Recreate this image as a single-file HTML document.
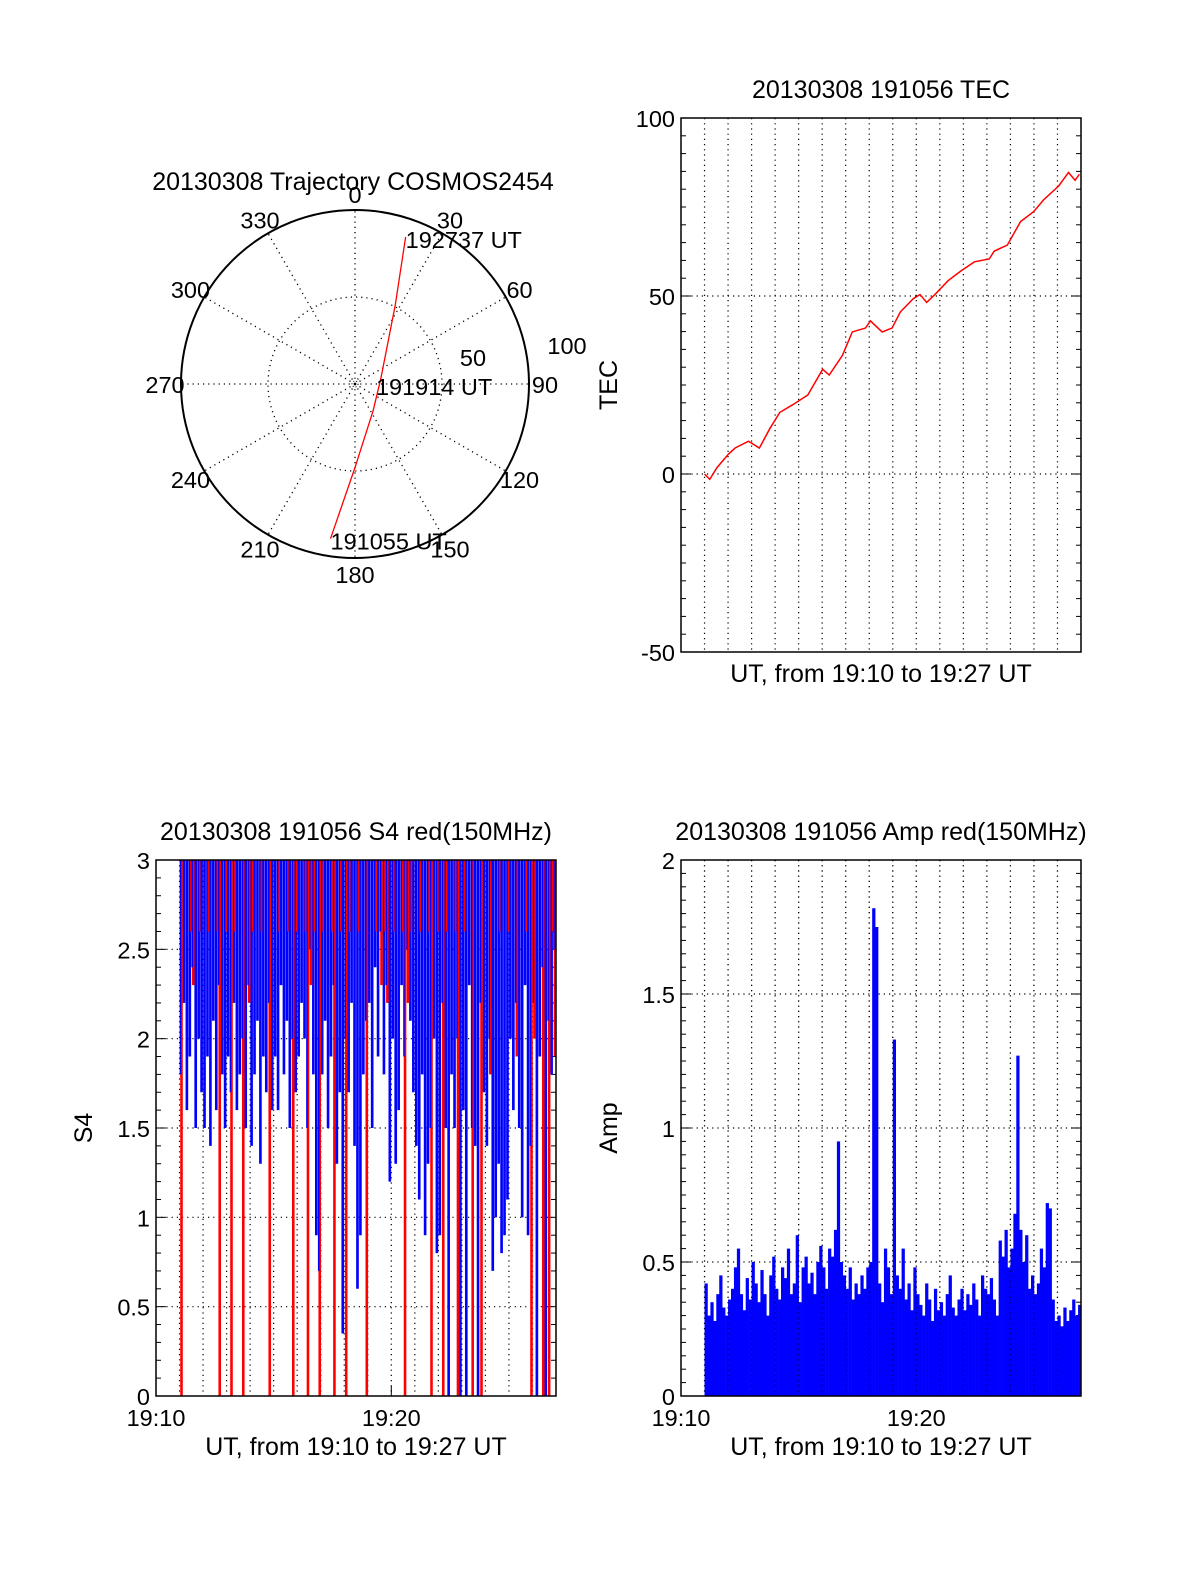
<!DOCTYPE html>
<html><head><meta charset="utf-8"><style>
html,body{margin:0;padding:0;background:#fff;}
svg text{font-family:"Liberation Sans",sans-serif;fill:#000;}
</style></head><body>
<svg id="root" xmlns="http://www.w3.org/2000/svg" width="1200" height="1575" viewBox="0 0 1200 1575">
<rect x="0" y="0" width="1200" height="1575" fill="#fff"/>
<g id="polar"></g>
<g id="tec"></g>
<g id="s4"></g>
<g id="amp"></g>
</svg>
<script>
// ---- data ----
const trajAz = [189, 180, 146, 77, 27, 19];
const trajZd = [90, 48, 18.6, 15.3, 51, 89.4];
const trajLabels = ["191055 UT", "191914 UT", "192737 UT"];
const polarAngles = [0,30,60,90,120,150,180,210,240,270,300,330];

const tecT = [11.0,11.22,11.53,12.02,12.3,12.87,13.33,13.78,14.2,14.76,15.39,16.02,16.3,16.86,17.28,17.84,18.05,18.55,18.97,19.32,19.88,20.16,20.44,20.79,21.35,21.91,22.47,23.1,23.31,23.87,24.43,24.99,25.41,26.05,26.47,26.75,26.93];
const tecV = [0,-1.5,1.8,5.6,7.3,9.2,7.3,12.8,17.3,19.5,22.2,29.4,27.8,33.3,39.9,41.0,43.0,39.9,41.0,45.5,49.3,50.4,48.2,50.4,54.3,57.1,59.6,60.4,62.6,64.3,70.9,73.7,77.0,80.9,84.7,82.5,84.2];
const tecTicks = [-50, 0, 50, 100];

const s4Blue = [
1.8,2.2,1.6,1.9,2.4,1.5,2.0,1.7,
1.5,1.9,1.4,2.1,1.6,2.3,1.8,1.5,
1.9,1.7,2.2,1.6,1.8,2.0,1.5,2.3,
1.4,1.8,2.1,1.3,1.9,1.7,2.2,1.6,
1.9,1.6,2.3,1.8,2.1,1.5,2.0,1.7,
1.9,2.2,2.0,1.5,2.5,1.8,0.9,0.7,
1.8,2.1,1.5,1.9,2.3,1.3,1.7,0.35,
2.0,1.7,2.2,1.4,0.6,0.9,1.8,2.1,
2.2,1.5,2.4,1.9,2.6,1.8,2.3,1.2,
2.0,1.3,1.6,2.3,1.9,2.5,2.1,1.7,
1.4,1.1,1.8,0.9,1.3,1.5,2.0,0.8,
0.9,2.2,1.5,0,1.8,1.5,2.0,0,
1.6,0,2.3,1.5,1.4,0,2.2,1.7,
1.4,2.0,0.7,1.0,1.3,0.8,0.9,1.1,
2.0,1.6,2.2,1.5,1.0,2.3,0.9,1.4,
2.2,0,1.9,2.4,0,2.1,1.8,2.5];
const s4Red = [
0,2.4,2.2,2.6,2.3,2.0,2.5,2.2,
2.3,2.1,2.6,2.4,2.2,0,2.3,2.5,
2.2,0,2.4,2.3,2.1,0,2.5,2.2,
2.4,2.2,2.6,2.3,2.1,2.5,0,2.2,
2.3,2.1,2.4,2.2,2.5,2.3,0,2.4,
2.2,2.5,2.1,0,2.3,2.4,2.2,0,
2.5,2.3,2.2,2.4,0,2.1,2.4,2.3,
0,2.2,2.5,2.3,2.4,2.2,2.1,0,
2.4,2.2,2.5,2.1,2.3,2.6,2.2,2.4,
2.3,2.5,2.1,2.4,0,2.2,2.5,2.3,
2.2,2.4,2.3,2.1,2.5,0,2.2,2.4,
2.3,0,2.2,2.4,2.5,2.3,0,2.1,
2.2,2.4,2.3,0,2.1,2.4,0,2.2,
2.0,1.8,2.4,2.1,2.2,1.9,2.3,2.0,
2.1,2.3,1.9,2.2,2.0,2.4,1.8,0,
2.0,2.2,1.9,0,2.1,0,2.0,1.9];
const s4Ticks = [0,0.5,1,1.5,2,2.5,3];

const ampV = [
.42,.30,.35,.28,.38,.45,.33,.30,
.36,.40,.48,.55,.38,.32,.44,.36,
.50,.42,.35,.47,.38,.30,.45,.52,
.40,.36,.48,.44,.55,.38,.42,.60,
.35,.48,.52,.42,.46,.38,.50,.56,
.48,.40,.55,.52,.62,.95,.50,.45,
.40,.48,.36,.42,.38,.45,.40,.48,
.50,1.82,1.75,.42,.35,.55,.48,.38,
1.33,.45,.40,.55,.36,.42,.32,.48,
.38,.34,.30,.42,.36,.28,.40,.32,
.35,.30,.38,.45,.33,.30,.36,.40,
.32,.38,.34,.42,.36,.30,.45,.40,
.38,.44,.36,.30,.58,.52,.62,.48,
.55,.68,1.27,.62,.50,.60,.40,.45,
.38,.42,.55,.48,.72,.70,.36,.28,
.30,.26,.33,.28,.32,.36,.30,.34];
const ampTicks = [0,0.5,1,1.5,2];
const xTickLabels = ["19:10","19:20"];

// ---- helpers ----
const NS = "http://www.w3.org/2000/svg";
function mk(parent, tag, attrs, text){
  const e = document.createElementNS(NS, tag);
  for (const k in attrs) e.setAttribute(k, attrs[k]);
  if (text !== undefined) e.textContent = text;
  parent.appendChild(e);
  return e;
}
const DOT = "1.2,4";
const FT = 25, FL = 23.5;

// ---- polar ----
(function(){
  const g = document.getElementById('polar');
  const cx = 355, cy = 384, R = 174;
  const pr = r => r / 100 * R;
  const t = mk(g,'text',{x:353,y:190,'font-size':FT,'text-anchor':'middle'},'20130308 Trajectory COSMOS2454');
  
  
  polarAngles.forEach(a=>{
    const rad = a*Math.PI/180;
    const l = mk(g,'line',{x1:cx,y1:cy,x2:cx+R*Math.sin(rad),y2:cy-R*Math.cos(rad),stroke:'#000','stroke-width':1.3,'stroke-dasharray':DOT});
    
    
    const lr = R + 16;
    const lb = mk(g,'text',{x:cx+lr*Math.sin(rad),y:cy-lr*Math.cos(rad)+9,'font-size':FL,'text-anchor':'middle'},String(a));
    
    
  });
  const c1 = mk(g,'circle',{cx:cx,cy:cy,r:pr(50),fill:'none',stroke:'#000','stroke-width':1.3,'stroke-dasharray':DOT});
  
  
  mk(g,'circle',{cx:cx,cy:cy,r:3,fill:'none',stroke:'#000','stroke-width':1,'stroke-dasharray':'1,2'});
  const c2 = mk(g,'circle',{cx:cx,cy:cy,r:R,fill:'none',stroke:'#000','stroke-width':2});
  
  
  const r50 = mk(g,'text',{x:473,y:366,'font-size':FL,'text-anchor':'middle'},'50');
  
  
  const r100 = mk(g,'text',{x:567,y:354,'font-size':FL,'text-anchor':'middle'},'100');
  
  
  const pts = trajAz.map((a,i)=>{const rad=a*Math.PI/180;return [cx+pr(trajZd[i])*Math.sin(rad), cy-pr(trajZd[i])*Math.cos(rad)];});
  const pl = mk(g,'polyline',{points:pts.map(p=>p.join(',')).join(' '),fill:'none',stroke:'#f00','stroke-width':1.3});
  
  
  const idx = [0, 3, trajAz.length-1];
  const offs = [[0,11],[-5,17],[0,11]];
  idx.forEach((k,j)=>{
    const tl = mk(g,'text',{x:pts[k][0]+offs[j][0],y:pts[k][1]+offs[j][1],'font-size':FL},trajLabels[j]);
    
    
  });
})();

// ---- generic axes ----
function axes(g, box, ymin, ymax, yTicks, minorStep, title, ylabel, xlabel, vgridMinutes, hgrid, xTicks){
  const sx = t => box.x0 + (t-10)/17*(box.x1-box.x0);
  const sy = v => box.y1 - (v-ymin)/(ymax-ymin)*(box.y1-box.y0);
  vgridMinutes.forEach(m=>{
    const l = mk(g,'line',{x1:sx(m),y1:box.y0,x2:sx(m),y2:box.y1,stroke:'#000','stroke-width':1.2,'stroke-dasharray':DOT});
    
    
  });
  hgrid.forEach(v=>{
    const l = mk(g,'line',{x1:box.x0,y1:sy(v),x2:box.x1,y2:sy(v),stroke:'#000','stroke-width':1.2,'stroke-dasharray':DOT});
    
    
  });
  const tt = mk(g,'text',{x:(box.x0+box.x1)/2,y:box.y0-20,'font-size':FT,'text-anchor':'middle'},title);
  
  
  yTicks.forEach(v=>{
    const lb = mk(g,'text',{x:box.x0-6,y:sy(v)+9,'font-size':FL,'text-anchor':'end'},String(v));
    
    
  });
  for (let v=ymin; v<=ymax+1e-9; v+=minorStep){
    const major = yTicks.some(t=>Math.abs(t-v)<1e-6);
    const len = major?10:5;
    mk(g,'line',{x1:box.x0,y1:sy(v),x2:box.x0+len,y2:sy(v),stroke:'#000','stroke-width':1});
    mk(g,'line',{x1:box.x1,y1:sy(v),x2:box.x1-len,y2:sy(v),stroke:'#000','stroke-width':1});
  }
  if (xTicks){
    xTicks.forEach((lbl,i)=>{
      const m = 10+i*10;
      const lb = mk(g,'text',{x:sx(m),y:box.y1+30,'font-size':FL,'text-anchor':'middle'},lbl);
      
      
      mk(g,'line',{x1:sx(m),y1:box.y1,x2:sx(m),y2:box.y1-10,stroke:'#000','stroke-width':1});
    });
  }
  const xl = mk(g,'text',{x:(box.x0+box.x1)/2,y:box.y1+(xTicks?59:30),'font-size':FT,'text-anchor':'middle'},xlabel);
  
  
  const yl = mk(g,'text',{x:0,y:0,'font-size':FT,'text-anchor':'middle',transform:`translate(${box.x0-64},${(box.y0+box.y1)/2}) rotate(-90)`},ylabel);
  
  
  return {sx, sy};
}
function frame(g, box){
  const f = mk(g,'rect',{x:box.x0,y:box.y0,width:box.x1-box.x0,height:box.y1-box.y0,fill:'none',stroke:'#000','stroke-width':1.5});
  
  
}
const minutes = []; for (let m=11;m<=26;m++) minutes.push(m);

// ---- TEC ----
(function(){
  const g = document.getElementById('tec');
  const box = {x0:681,x1:1081,y0:118,y1:652};
  const {sx,sy} = axes(g, box, -50, 100, tecTicks, 5, '20130308 191056 TEC', 'TEC', 'UT, from 19:10 to 19:27 UT', minutes, [0,50], null);
  const p = mk(g,'polyline',{points:tecT.map((t,i)=>sx(t)+','+sy(tecV[i])).join(' '),fill:'none',stroke:'#f00','stroke-width':1.5});
  
  
  frame(g, box);
})();

// ---- S4 ----
(function(){
  const g = document.getElementById('s4');
  const box = {x0:156,x1:556,y0:860,y1:1396};
  const {sx,sy} = axes(g, box, 0, 3, s4Ticks, 0.1, '20130308 191056 S4 red(150MHz)', 'S4', 'UT, from 19:10 to 19:27 UT', minutes, [0.5,1,1.5,2,2.5], xTickLabels);
  const step = sx(11+1/8)-sx(11);
  // red full-depth spikes behind
  s4Red.forEach((v,i)=>{
    const t = 11 + i/8;
    const l = mk(g,'line',{x1:sx(t)+step/2,y1:sy(3),x2:sx(t)+step/2,y2:sy(v),stroke:'#f00','stroke-width':1.6});
    
    
  });
  // blue full width
  s4Blue.forEach((v,i)=>{
    const t = 11 + i/8;
    const l = mk(g,'line',{x1:sx(t)+step/2,y1:sy(3),x2:sx(t)+step/2,y2:sy(v),stroke:'#00f','stroke-width':step*0.9});
    
    
  });
  // red patches on top for every third sample, and red zero-drops visible
  s4Red.forEach((v,i)=>{
    const t = 11 + i/8;
    if (i % 3 === 0 || v < s4Blue[i]) {
      const y2 = (i % 3 === 0) ? sy(Math.max(v, 2.6)) : sy(v);
      const l = mk(g,'line',{x1:sx(t)+step/2+1,y1:sy(3),x2:sx(t)+step/2+1,y2:(v < s4Blue[i] ? sy(v) : y2),stroke:'#f00','stroke-width':1.6});
      
      
    }
  });
  frame(g, box);
})();

// ---- Amp ----
(function(){
  const g = document.getElementById('amp');
  const box = {x0:681,x1:1081,y0:860,y1:1396};
  const {sx,sy} = axes(g, box, 0, 2, ampTicks, 0.05, '20130308 191056 Amp red(150MHz)', 'Amp', 'UT, from 19:10 to 19:27 UT', minutes, [0.5,1,1.5], xTickLabels);
  const w = sx(11+1/8)-sx(11);
  ampV.forEach((v,i)=>{
    const t = 11 + i/8;
    const r = mk(g,'rect',{x:sx(t),y:sy(v),width:w+0.3,height:sy(0)-sy(v),fill:'#00f'});
    
    
  });
  minutes.forEach(m=>{
    mk(g,'line',{x1:sx(m),y1:box.y0,x2:sx(m),y2:box.y1,stroke:'#000','stroke-width':1.2,'stroke-dasharray':DOT,opacity:0.6});
  });
  frame(g, box);
})();
</script>
</body></html>
